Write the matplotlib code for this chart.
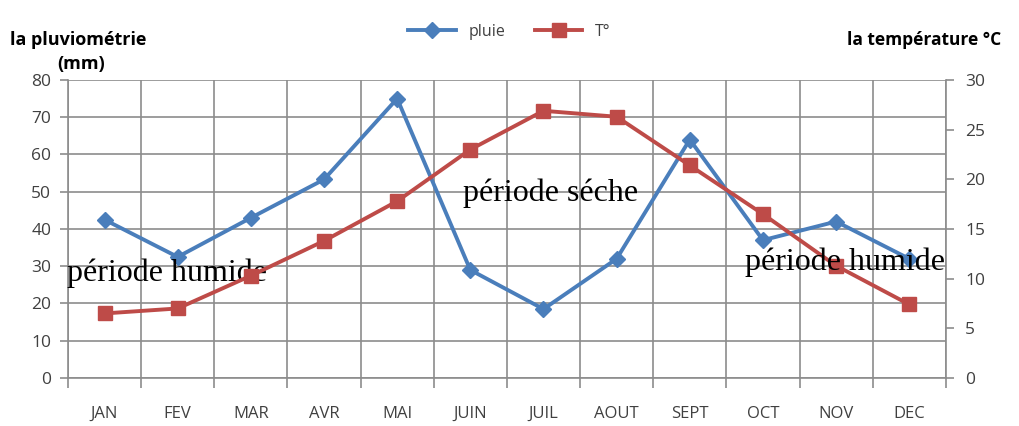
import matplotlib
matplotlib.use("Agg")
import matplotlib.pyplot as plt
import numpy as np

months = ["JAN", "FEV", "MAR", "AVR", "MAI", "JUIN", "JUIL", "AOUT", "SEPT", "OCT", "NOV", "DEC"]
pluie = [42.5, 32.5, 43, 53.3, 75, 29, 18.5, 32, 64, 37, 42, 32]
temp = [6.5, 7.0, 10.3, 13.8, 17.8, 23.0, 26.9, 26.3, 21.4, 16.5, 11.3, 7.4]

blue = "#4a7ebb"
red = "#be4b48"
grid_c = "#8c8c8c"
txt_c = "#404040"

fig = plt.figure(figsize=(10.19, 4.26), dpi=100)
ax = fig.add_axes([0.0667, 0.1127, 0.8615, 0.6995])
ax2 = ax.twinx()

x = np.arange(len(months))
ax.set_xlim(-0.5, len(months) - 0.5)
ax.set_ylim(0, 80)
ax2.set_ylim(0, 30)

# grid
ax.set_yticks(np.arange(0, 81, 10))
ax.set_xticks(x)
ax.set_xticklabels(months)
ax.set_xticks(np.arange(-0.5, len(months)), minor=True)
ax.grid(True, which="major", axis="y", color=grid_c, lw=1.2)
ax.grid(True, which="minor", axis="x", color=grid_c, lw=1.2)
ax.tick_params(axis="x", which="major", length=0, pad=20, labelsize=12, labelcolor=txt_c)
ax.tick_params(axis="x", which="minor", length=7, color=grid_c, width=1.2)
ax.tick_params(axis="y", length=6, color=grid_c, width=1.2, labelsize=12.5, labelcolor=txt_c, pad=6)
for s in ["top", "right"]:
    ax.spines[s].set_visible(False)
ax.spines["left"].set_color(grid_c)
ax.spines["bottom"].set_color(grid_c)
ax.spines["left"].set_linewidth(1.2)
ax.spines["bottom"].set_linewidth(1.2)
for s in ["top", "left", "bottom"]:
    ax2.spines[s].set_visible(False)
ax2.spines["right"].set_color(grid_c)
ax2.spines["right"].set_linewidth(1.2)
ax2.set_yticks(np.arange(0, 31, 5))
ax2.tick_params(axis="y", length=6, color=grid_c, width=1.2, labelsize=12.5, labelcolor=txt_c, pad=8)
ax.set_axisbelow(True)

l1, = ax.plot(x, pluie, color=blue, lw=2.8, marker="D", ms=8, label="pluie", zorder=3)
l2, = ax2.plot(x, temp, color=red, lw=2.8, marker="s", ms=10, label="T°", zorder=3)

for a in (ax, ax2):
    for lab in a.get_xticklabels() + a.get_yticklabels():
        lab.set_family("Open Sans")

fig.legend([l1, l2], ["pluie", "T°"], loc="center", bbox_to_anchor=(0.5, 0.925), ncol=2,
           frameon=False, handlelength=3, columnspacing=1.8,
           prop={"family": "Open Sans", "size": 11.5}, labelcolor=txt_c)

fig.text(0.010, 0.905, "la pluviométrie", fontsize=13, weight="bold", family="Open Sans", va="center")
fig.text(0.056, 0.850, "(mm)", fontsize=13, weight="bold", family="Open Sans", va="center")
fig.text(0.831, 0.905, "la température °C", fontsize=12.5, weight="bold", family="Open Sans", va="center")

ax.text(-0.52, 28, "période humide", fontsize=23, family="Liberation Serif", va="center", ha="left", zorder=4)
ax.text(4.9, 49.5, "période séche", fontsize=23, family="Liberation Serif", va="center", ha="left", zorder=4)
ax2.text(8.75, 11.7, "période humide", fontsize=23, family="Liberation Serif", va="center", ha="left", zorder=5)

fig.savefig("out.png", dpi=100)
